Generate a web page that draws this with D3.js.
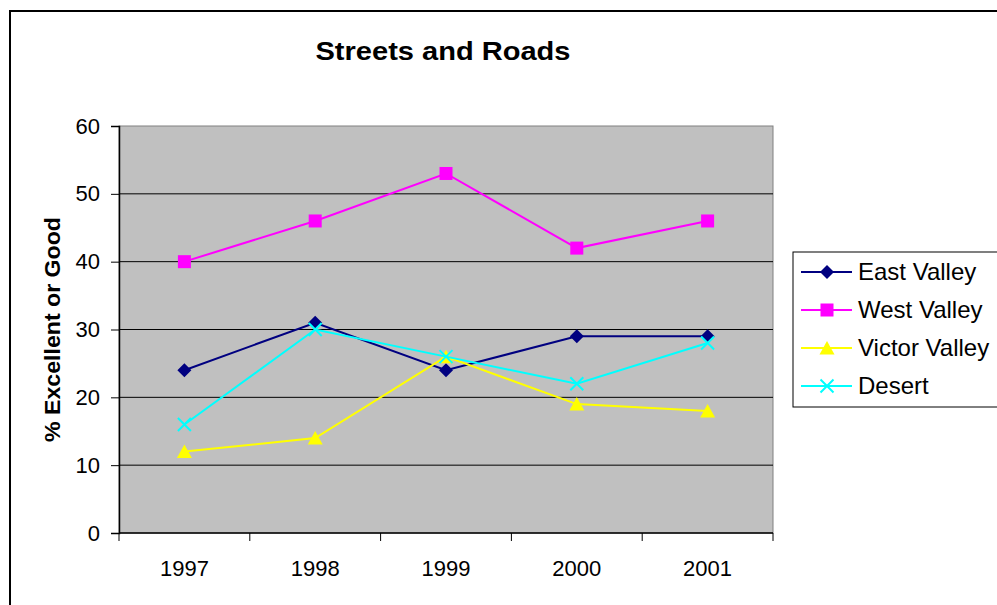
<!DOCTYPE html>
<html>
<head>
<meta charset="utf-8">
<script src="https://cdn.jsdelivr.net/npm/d3@7"></script>
<style>
  body { margin: 0; background: #fff; }
  text { font-family: "Liberation Sans", Arial, sans-serif; }
</style>
</head>
<body>
<svg id="chart"></svg>
<script>
const years = ['1997', '1998', '1999', '2000', '2001'];
const eastValley = [24, 31, 24, 29, 29];
const westValley = [40, 46, 53, 42, 46];
const victorValley = [12, 14, 26, 19, 18];
const desert = [16, 30, 26, 22, 28];
const yTicks = [0, 10, 20, 30, 40, 50, 60];

const series = [
  { name: 'East Valley', values: eastValley, color: '#000080', marker: 'diamond' },
  { name: 'West Valley', values: westValley, color: '#ff00ff', marker: 'square' },
  { name: 'Victor Valley', values: victorValley, color: '#ffff00', marker: 'triangle' },
  { name: 'Desert', values: desert, color: '#00ffff', marker: 'cross' },
];

const width = 997, height = 605;
const plot = { left: 119, top: 126, right: 773, bottom: 533 };

const svg = d3.select('#chart').attr('width', width).attr('height', height);

// outer chart border
svg.append('rect')
  .attr('x', 10).attr('y', 11)
  .attr('width', 1100).attr('height', 700)
  .attr('fill', '#fff').attr('stroke', '#000').attr('stroke-width', 2);

const x = d3.scaleBand().domain(years).range([plot.left, plot.right]);
const y = d3.scaleLinear().domain([0, 60]).range([plot.bottom, plot.top]);

svg.append('rect')
  .attr('x', plot.left).attr('y', plot.top)
  .attr('width', plot.right - plot.left).attr('height', plot.bottom - plot.top)
  .attr('fill', '#c0c0c0').attr('stroke', '#808080').attr('stroke-width', 1);

svg.append('g').selectAll('line')
  .data(yTicks.filter(d => d > 0 && d < 60))
  .enter().append('line')
  .attr('x1', plot.left).attr('x2', plot.right)
  .attr('y1', d => y(d)).attr('y2', d => y(d))
  .attr('stroke', '#000').attr('stroke-width', 1);

const yAxis = svg.append('g')
  .attr('transform', `translate(${plot.left},0)`)
  .call(d3.axisLeft(y).tickValues(yTicks).tickSize(8).tickPadding(11));
yAxis.select('.domain').attr('stroke', '#000').attr('stroke-width', 1.5);
yAxis.selectAll('text').attr('font-size', 22).attr('fill', '#000')
  .style('font-family', '"Liberation Sans", Arial, sans-serif');

// category axis: ticks on band edges
const xAxis = svg.append('g')
  .attr('transform', `translate(0,${plot.bottom})`);
xAxis.append('line')
  .attr('x1', plot.left).attr('x2', plot.right)
  .attr('stroke', '#000').attr('stroke-width', 1.5);
const edges = years.map(d => x(d)).concat([plot.right]);
xAxis.selectAll('.tk').data(edges).enter().append('line')
  .attr('x1', d => d).attr('x2', d => d).attr('y1', 0).attr('y2', 8)
  .attr('stroke', '#000');
xAxis.selectAll('.lbl').data(years).enter().append('text')
  .attr('x', d => x(d) + x.bandwidth() / 2).attr('y', 43)
  .attr('text-anchor', 'middle').attr('font-size', 22)
  .text(d => d);

const cx = d => x(d) + x.bandwidth() / 2;
const line = d3.line().x((d, i) => cx(years[i])).y(d => y(d));

function drawMarker(g, type, color) {
  if (type === 'diamond') {
    g.append('path').attr('d', 'M0,-7L7,0L0,7L-7,0Z').attr('fill', color);
  } else if (type === 'square') {
    g.append('rect').attr('x', -6.5).attr('y', -6.5).attr('width', 13).attr('height', 13).attr('fill', color);
  } else if (type === 'triangle') {
    g.append('path').attr('d', 'M0,-7L7.5,6.5L-7.5,6.5Z').attr('fill', color);
  } else {
    g.append('path').attr('d', 'M-6.5,-6.5L6.5,6.5M-6.5,6.5L6.5,-6.5').attr('stroke', color).attr('stroke-width', 2);
  }
}

series.forEach(s => {
  svg.append('path').datum(s.values)
    .attr('d', line).attr('fill', 'none')
    .attr('stroke', s.color).attr('stroke-width', 2);
  s.values.forEach((v, i) => {
    const g = svg.append('g').attr('transform', `translate(${cx(years[i])},${y(v)})`);
    drawMarker(g, s.marker, s.color);
  });
});

svg.append('text')
  .attr('x', 443).attr('y', 60)
  .attr('text-anchor', 'middle').attr('font-size', 26).attr('font-weight', 'bold')
  .attr('textLength', 255).attr('lengthAdjust', 'spacingAndGlyphs')
  .text('Streets and Roads');

svg.append('text')
  .attr('transform', `translate(60,${(plot.top + plot.bottom) / 2}) rotate(-90)`)
  .attr('text-anchor', 'middle').attr('font-size', 22.5).attr('font-weight', 'bold')
  .attr('textLength', 225).attr('lengthAdjust', 'spacingAndGlyphs')
  .text('% Excellent or Good');

// legend
const legend = svg.append('g').attr('transform', 'translate(793,252)');
legend.append('rect').attr('x', 0).attr('y', 0).attr('width', 220).attr('height', 155)
  .attr('fill', '#fff').attr('stroke', '#000').attr('stroke-width', 1);
series.forEach((s, i) => {
  const g = legend.append('g').attr('transform', `translate(0,${20 + i * 38})`);
  g.append('line').attr('x1', 8).attr('x2', 59).attr('stroke', s.color).attr('stroke-width', 2);
  drawMarker(g.append('g').attr('transform', 'translate(34,0)'), s.marker, s.color);
  g.append('text').attr('x', 65).attr('y', 8).attr('font-size', 24).text(s.name);
});
</script>
</body>
</html>
